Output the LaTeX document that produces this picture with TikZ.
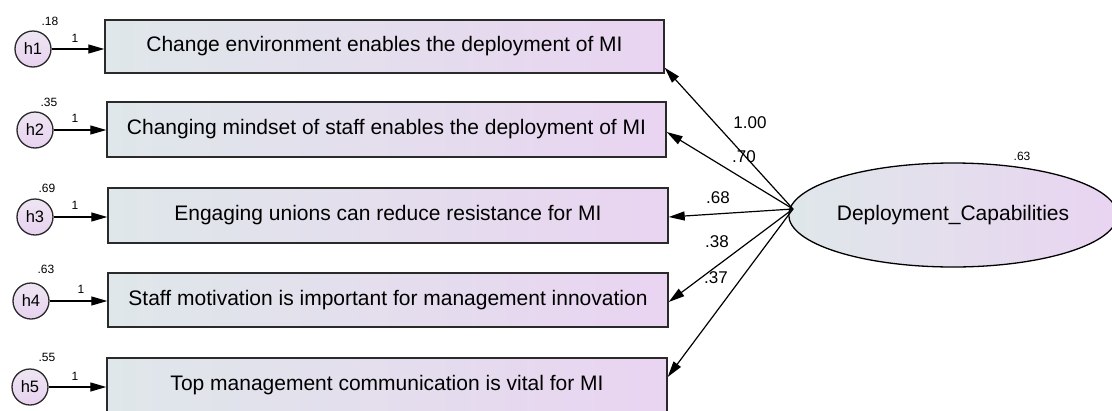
\documentclass[tikz,border=0pt]{standalone}
\usepackage{fontspec}
\setmainfont{Liberation Sans}
\usetikzlibrary{arrows.meta,shapes.geometric}
\definecolor{gleft}{HTML}{DFE7EA}
\definecolor{gright}{HTML}{E9D4F1}
\definecolor{ctop}{HTML}{EEE6F2}
\definecolor{cbot}{HTML}{E8D2F0}
\definecolor{edge}{HTML}{2A2A2A}
\tikzset{
  obsbox/.style={draw=edge, line width=1.4pt, left color=gleft, right color=gright,
    inner sep=0pt, font=\fontsize{21}{25}\selectfont},
  errc/.style={circle, draw=edge, line width=1.3pt, top color=ctop, bottom color=cbot, minimum size=36pt,
    inner sep=0pt, font=\fontsize{16.5}{19}\selectfont},
  latent/.style={ellipse, draw=black, line width=1.3pt, left color=gleft, right color=gright,
    minimum width=322pt, minimum height=104pt, inner sep=0pt, font=\fontsize{21}{25}\selectfont},
  arr/.style={-{Triangle[length=16pt,width=9pt]}, line width=1.2pt, black},
  small/.style={font=\fontsize{12}{13}\selectfont, inner sep=0pt},
  coef/.style={font=\fontsize{17}{19}\selectfont, inner sep=0pt},
}
\begin{document}
\begin{tikzpicture}[x=1pt,y=-1pt]
\useasboundingbox (0,0) rectangle (1112,410);
% observed boxes
\node[obsbox, minimum width=559pt, minimum height=53pt] (b1) at (384.5,46.5) {Change environment enables the deployment of MI};
\node[obsbox, minimum width=559pt, minimum height=55pt] (b2) at (386.5,129.5) {Changing mindset of staff enables the deployment of MI};
\node[obsbox, minimum width=560pt, minimum height=55pt] (b3) at (388,215.5) {Engaging unions can reduce resistance for MI};
\node[obsbox, minimum width=560pt, minimum height=54pt] (b4) at (388,300) {Staff motivation is important for management innovation};
\node[obsbox, minimum width=560pt, minimum height=54pt] (b5) at (387,385) {Top management communication is vital for MI};
% error terms
\node[errc] (h1) at (33,49) {h1};
\node[errc] (h2) at (35,130) {h2};
\node[errc] (h3) at (35,217) {h3};
\node[errc] (h4) at (31,301) {h4};
\node[errc] (h5) at (30,387) {h5};
\draw[arr] (h1) -- (h1 -| b1.west);
\draw[arr] (h2) -- (h2 -| b2.west);
\draw[arr] (h3) -- (h3 -| b3.west);
\draw[arr] (h4) -- (h4 -| b4.west);
\draw[arr] (h5) -- (h5 -| b5.west);
\node[small] (v1) at (50,21) {.18};
\node[small] (v2) at (49,102) {.35};
\node[small] (v3) at (47,188) {.69};
\node[small] (v4) at (46,269) {.63};
\node[small] (v5) at (47,357) {.55};
\node[small] (o1) at (75,38) {1};
\node[small] (o2) at (75,118) {1};
\node[small] (o3) at (75,205) {1};
\node[small] (o4) at (81,289) {1};
\node[small] (o5) at (75,376) {1};
% latent
\node[latent] (dc) at (953,215) {Deployment\_Capabilities};
\node[small] (dv) at (1022,156) {.63};
\coordinate (dcp) at (793,209);
\draw[arr] (dcp) -- ([yshift=6pt]b1.south east);
\draw[arr] (dcp) -- ([yshift=-2.5pt]b2.east);
\draw[arr] (dcp) -- ([yshift=-1.5pt]b3.east);
\draw[arr] (dcp) -- ([yshift=-2pt]b4.east);
\draw[arr] (dcp) -- ([yshift=8pt]b5.east);
\node[coef] (c1) at (750,123) {1.00};
\node[coef] (c2) at (744,157) {.70};
\node[coef] (c3) at (718,198) {.68};
\node[coef] (c4) at (717,242) {.38};
\node[coef] (c5) at (716,278) {.37};
\end{tikzpicture}
\end{document}
